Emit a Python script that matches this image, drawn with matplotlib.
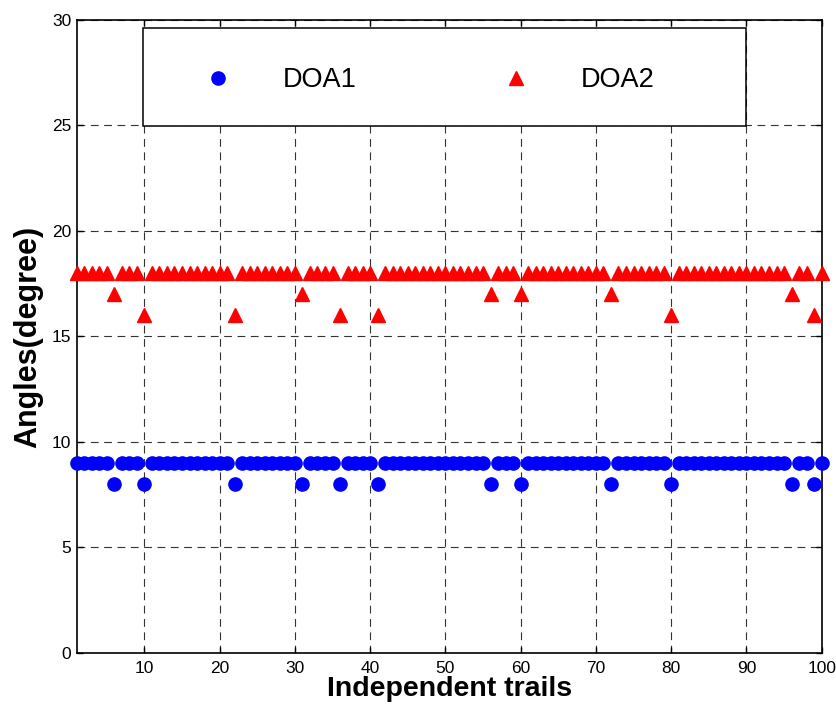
import matplotlib
matplotlib.use("Agg")
import matplotlib.pyplot as plt
from matplotlib.patches import Rectangle

plt.rcParams['font.family'] = ['Liberation Sans', 'DejaVu Sans']

# trial index 1..100
trials = list(range(1, 101))

# estimated angles of arrival (degree) per trial
doa1 = [9, 9, 9, 9, 9, 8, 9, 9, 9, 8,
        9, 9, 9, 9, 9, 9, 9, 9, 9, 9,
        9, 8, 9, 9, 9, 9, 9, 9, 9, 9,
        8, 9, 9, 9, 9, 8, 9, 9, 9, 9,
        8, 9, 9, 9, 9, 9, 9, 9, 9, 9,
        9, 9, 9, 9, 9, 8, 9, 9, 9, 8,
        9, 9, 9, 9, 9, 9, 9, 9, 9, 9,
        9, 8, 9, 9, 9, 9, 9, 9, 9, 8,
        9, 9, 9, 9, 9, 9, 9, 9, 9, 9,
        9, 9, 9, 9, 9, 8, 9, 9, 8, 9]

doa2 = [18, 18, 18, 18, 18, 17, 18, 18, 18, 16,
        18, 18, 18, 18, 18, 18, 18, 18, 18, 18,
        18, 16, 18, 18, 18, 18, 18, 18, 18, 18,
        17, 18, 18, 18, 18, 16, 18, 18, 18, 18,
        16, 18, 18, 18, 18, 18, 18, 18, 18, 18,
        18, 18, 18, 18, 18, 17, 18, 18, 18, 17,
        18, 18, 18, 18, 18, 18, 18, 18, 18, 18,
        18, 17, 18, 18, 18, 18, 18, 18, 18, 16,
        18, 18, 18, 18, 18, 18, 18, 18, 18, 18,
        18, 18, 18, 18, 18, 17, 18, 18, 16, 18]

xticks = [10, 20, 30, 40, 50, 60, 70, 80, 90, 100]
yticks = [0, 5, 10, 15, 20, 25, 30]

fig = plt.figure(figsize=(8.37, 7.09), dpi=100)
ax = fig.add_axes([0.0916, 0.079, 0.8901, 0.8928])

ax.plot(trials, doa1, 'o', color='#0000ff', ms=9.5, mec='#0000ff',
        label='DOA1', clip_on=False, zorder=3)
ax.plot(trials, doa2, '^', color='#ff0000', ms=9.5, mec='#ff0000',
        label='DOA2', clip_on=False, zorder=3)

ax.set_xlim(1, 100)
ax.set_ylim(0, 30)
ax.set_xticks(xticks)
ax.set_yticks(yticks)
ax.tick_params(direction='in', top=True, right=True, length=4, width=1,
               labelsize=12.5, pad=6)
ax.tick_params(axis='y', pad=4)
for sp in ax.spines.values():
    sp.set_linewidth(1.2)

ax.grid(True, color='0.2', linewidth=0.8, linestyle=(0, (7, 5)))
ax.set_axisbelow(True)

ax.set_xlabel('Independent trails', fontsize=20.5, fontweight='bold', labelpad=0)
ax.set_ylabel('Angles(degree)', fontsize=22, fontweight='bold', labelpad=6)

# MATLAB-style legend box
box = Rectangle((0.0894, 0.833), 0.8086, 0.154, transform=ax.transAxes,
                facecolor='white', edgecolor='black', linewidth=1.1, zorder=4)
ax.add_patch(box)
leg = ax.legend(loc='center', bbox_to_anchor=(0.4736, 0.905), ncol=2,
                frameon=False, fontsize=19.5, borderpad=0,
                handlelength=1.0, handletextpad=1.9, columnspacing=5.4,
                numpoints=1)
leg.set_zorder(5)

fig.savefig('out.png', dpi=100)
